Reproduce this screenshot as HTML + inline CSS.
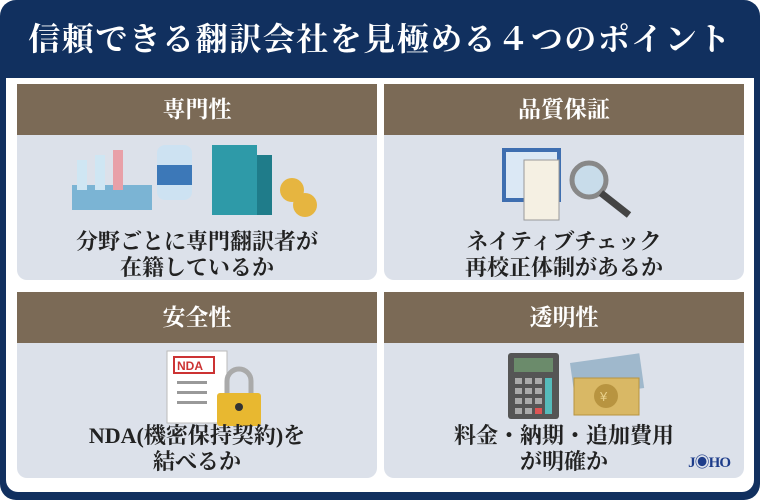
<!DOCTYPE html>
<html><head><meta charset="utf-8"><style>
*{margin:0;padding:0;box-sizing:border-box}
body{width:760px;height:500px;background:#fff;position:relative;overflow:hidden;font-family:"Liberation Serif","Noto Serif CJK JP","Noto Serif CJK SC",serif}
.frame{position:absolute;left:0;top:0;width:760px;height:500px;background:#11305f;border-radius:16px}
.inner{position:absolute;left:6px;top:78px;width:748px;height:414px;background:#fff;border-radius:0 0 12px 12px}
.title{position:absolute;left:0;top:14px;width:760px;text-align:center;color:#fff;font-size:32px;font-weight:bold;letter-spacing:1.5px;line-height:50px;white-space:nowrap}
.p{position:absolute;width:360px}
.h{height:51px;background:#7b6a56;color:#fff;font-size:23px;font-weight:bold;text-align:center;line-height:51px}
.b{background:#dce1ea;border-radius:0 0 10px 10px;position:relative}
.t{position:absolute;left:0;width:100%;text-align:center;font-size:22px;font-weight:bold;color:#222;line-height:26px;white-space:nowrap}
</style></head><body>
<div class="frame"></div>
<div class="title">信頼できる翻訳会社を見極める４つのポイント</div>
<div class="inner"></div>

<div class="p" style="left:17px;top:84px"><div class="h">専門性</div><div class="b" style="height:145px">
<svg width="360" height="95" style="position:absolute;left:0;top:0">
<rect x="55" y="50" width="80" height="25" fill="#7bb4d4"/><rect x="60" y="25" width="10" height="30" fill="#cfe6f3"/><rect x="78" y="20" width="10" height="35" fill="#cfe6f3"/><rect x="96" y="15" width="10" height="40" fill="#e8a0a8"/>
<rect x="140" y="10" width="35" height="55" rx="8" fill="#cde2f2"/><rect x="140" y="30" width="35" height="20" fill="#3c78b8"/>
<rect x="195" y="10" width="45" height="70" fill="#2e9aa8"/><rect x="240" y="20" width="15" height="60" fill="#1f7c8a"/>
<circle cx="275" cy="55" r="12" fill="#e6b540"/><circle cx="288" cy="70" r="12" fill="#e6b540"/>
</svg>
<div class="t" style="top:94px">分野ごとに専門翻訳者が<br>在籍しているか</div></div></div>

<div class="p" style="left:384px;top:84px"><div class="h">品質保証</div><div class="b" style="height:145px">
<svg width="360" height="95" style="position:absolute;left:0;top:0">
<rect x="120" y="15" width="55" height="50" fill="#dbe8f5" stroke="#3e6eb0" stroke-width="4"/>
<rect x="140" y="25" width="35" height="60" fill="#f5f0e3" stroke="#999"/>
<circle cx="205" cy="45" r="17" fill="#c8dcea" stroke="#888" stroke-width="5"/><line x1="217" y1="58" x2="245" y2="80" stroke="#444" stroke-width="7"/>
</svg>
<div class="t" style="top:94px">ネイティブチェック<br>再校正体制があるか</div></div></div>

<div class="p" style="left:17px;top:292px"><div class="h">安全性</div><div class="b" style="height:135px">
<svg width="360" height="95" style="position:absolute;left:0;top:0">
<rect x="150" y="8" width="60" height="72" fill="#fff" stroke="#bbb"/><rect x="157" y="14" width="40" height="16" fill="#fff" stroke="#c33" stroke-width="2"/><text x="160" y="27" font-size="12" font-weight="bold" fill="#c33" font-family="Liberation Sans">NDA</text>
<rect x="160" y="38" width="30" height="3" fill="#999"/><rect x="160" y="48" width="30" height="3" fill="#999"/><rect x="160" y="58" width="30" height="3" fill="#999"/>
<path d="M210 50 v-12 a12 12 0 0 1 24 0 v12" fill="none" stroke="#aaa" stroke-width="5"/><rect x="200" y="50" width="44" height="33" rx="3" fill="#e8b830"/><circle cx="222" cy="64" r="4" fill="#333"/>
</svg>
<div class="t" style="top:80px">NDA(機密保持契約)を<br>結べるか</div></div></div>

<div class="p" style="left:384px;top:292px"><div class="h">透明性</div><div class="b" style="height:135px">
<svg width="360" height="95" style="position:absolute;left:0;top:0">
<rect x="124" y="10" width="51" height="66" rx="3" fill="#555"/><rect x="130" y="15" width="39" height="14" fill="#6b8b6b"/>
<g fill="#aaa"><rect x="131" y="35" width="7" height="6"/><rect x="141" y="35" width="7" height="6"/><rect x="151" y="35" width="7" height="6"/><rect x="131" y="45" width="7" height="6"/><rect x="141" y="45" width="7" height="6"/><rect x="151" y="45" width="7" height="6"/><rect x="131" y="55" width="7" height="6"/><rect x="141" y="55" width="7" height="6"/><rect x="151" y="55" width="7" height="6"/><rect x="131" y="65" width="7" height="6"/><rect x="141" y="65" width="7" height="6"/></g>
<rect x="151" y="65" width="7" height="6" fill="#d55"/><rect x="161" y="35" width="7" height="36" fill="#5bb"/>
<rect x="188" y="15" width="70" height="35" fill="#9fb8cc" transform="rotate(-8 223 32)"/>
<rect x="190" y="35" width="65" height="37" fill="#d9b865" stroke="#b89440"/><circle cx="222" cy="53" r="12" fill="#b89440"/><text x="216" y="58" font-size="13" fill="#e8d08a" font-family="Liberation Sans">¥</text>
</svg>
<div class="t" style="top:80px">料金・納期・追加費用<br>が明確か</div>
<div style="position:absolute;right:14px;top:108px;font-size:15px;font-weight:bold;color:#1d3c8a;letter-spacing:-1px">J◉HO</div>
</div></div>
</body></html>
